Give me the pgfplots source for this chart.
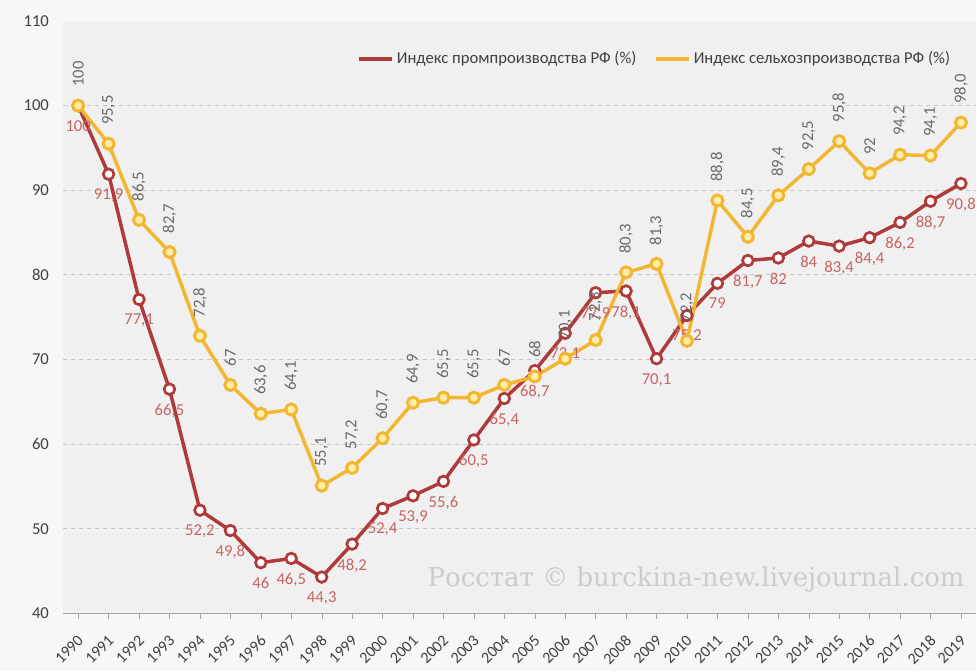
\documentclass[border=0pt]{standalone}
\usepackage{fontspec}
\setmainfont{Carlito}
\newfontfamily\wmfont{DejaVu Serif}
\usepackage{pgfplots}
\pgfplotsset{compat=1.18}
\usepackage{pgfplotstable}
\usetikzlibrary{backgrounds}
\definecolor{redl}{HTML}{B03A3A}
\definecolor{yell}{HTML}{F2B631}
\definecolor{yelfill}{HTML}{FFEDA8}
\definecolor{redlab}{HTML}{C86464}
\definecolor{greylab}{HTML}{6A6A6A}
\definecolor{bgout}{HTML}{F7F7F7}
\definecolor{bgin}{HTML}{F0F0F0}

\pgfplotstableread{
x y lbl
1990 100 100
1991 91.9 91,9
1992 77.1 77,1
1993 66.5 66,5
1994 52.2 52,2
1995 49.8 49,8
1996 46 46
1997 46.5 46,5
1998 44.3 44,3
1999 48.2 48,2
2000 52.4 52,4
2001 53.9 53,9
2002 55.6 55,6
2003 60.5 60,5
2004 65.4 65,4
2005 68.7 68,7
2006 73.1 73,1
2007 77.9 77,9
2008 78.1 78,1
2009 70.1 70,1
2010 75.2 75,2
2011 79 79
2012 81.7 81,7
2013 82 82
2014 84 84
2015 83.4 83,4
2016 84.4 84,4
2017 86.2 86,2
2018 88.7 88,7
2019 90.8 90,8
}\prom

\pgfplotstableread{
x y lbl
1990 100 100
1991 95.5 95,5
1992 86.5 86,5
1993 82.7 82,7
1994 72.8 72,8
1995 67 67
1996 63.6 63,6
1997 64.1 64,1
1998 55.1 55,1
1999 57.2 57,2
2000 60.7 60,7
2001 64.9 64,9
2002 65.5 65,5
2003 65.5 65,5
2004 67 67
2005 68 68
2006 70.1 70,1
2007 72.3 72,3
2008 80.3 80,3
2009 81.3 81,3
2010 72.2 72,2
2011 88.8 88,8
2012 84.5 84,5
2013 89.4 89,4
2014 92.5 92,5
2015 95.8 95,8
2016 92 92
2017 94.2 94,2
2018 94.1 94,1
2019 98.0 98,0
}\selh

\begin{document}
\begin{tikzpicture}
\begin{axis}[
  scale only axis,
  width=685.5pt, height=444.75pt,
  xmin=1989.5, xmax=2019.5,
  ymin=40, ymax=110,
  axis background/.style={fill=bgin},
  axis x line*=bottom,
  axis y line*=left,
  y axis line style={draw=none},
  x axis line style={draw=gray!70, line width=1pt},
  xtick={1990,...,2019},
  xtick style={draw=gray!70},
  tick align=outside,
  major tick length=4pt,
  ytick={40,50,...,110},
  ytick style={draw=none},
  extra y ticks={50,60,...,100},
  extra y tick labels={},
  extra y tick style={grid=major, major grid style={dashed, draw=gray!45, line width=0.7pt}},
  /pgf/number format/1000 sep={},
  /pgf/number format/assume math mode=true,
  yticklabel style={font=\fontsize{12.5}{14}\selectfont, color=black!75, xshift=-3pt},
  xticklabel style={font=\fontsize{12}{13}\selectfont, color=black!75, yshift=-10pt, xshift=-1pt, rotate=45, anchor=north east, inner sep=1pt},
  legend style={at={(rel axis cs:0.979,0.958)}, anchor=north east, draw=none, fill=none,
    font=\fontsize{12.5}{14}\selectfont, text=black!75, legend columns=2,
    /tikz/every even column/.append style={column sep=11pt}},
  legend image code/.code={\draw[#1, line width=3pt] (0pt,0pt) -- (25pt,0pt);},
  clip=false,
]
\addplot[redl, line width=2.6pt, mark=*, mark size=4pt,
  mark options={fill=white, draw=redl, line width=2pt},
  point meta=explicit symbolic, nodes near coords,
  every node near coord/.append style={font=\fontsize{12.5}{14}\selectfont, color=redlab, anchor=north, yshift=-9pt, inner sep=1pt}]
  table[x=x, y=y, meta=lbl] {\prom};
\addlegendentry{Индекс промпроизводства РФ (\%)}
\addplot[yell, line width=2.6pt, mark=*, mark size=4.2pt,
  mark options={fill=yelfill, draw=yell, line width=2.2pt},
  point meta=explicit symbolic, nodes near coords,
  every node near coord/.append style={font=\fontsize{12.5}{14}\selectfont, color=greylab, anchor=west, rotate=90, inner xsep=13pt, inner ysep=1pt}]
  table[x=x, y=y, meta=lbl] {\selh};
\addlegendentry{Индекс сельхозпроизводства РФ (\%)}
\node[font=\wmfont\fontsize{19.5}{22}\selectfont, color=black!20, anchor=center] at (axis cs:2010.3,44.0) {Росстат © burckina-new.livejournal.com};
\coordinate (sw) at (rel axis cs:0,0);
\coordinate (ne) at (rel axis cs:1,1);
\end{axis}
\begin{scope}[on background layer]
\fill[bgout] ([shift={(-47.25pt,-43.5pt)}]sw) rectangle ([shift={(0pt,15.75pt)}]ne);
\end{scope}
\end{tikzpicture}
\end{document}
